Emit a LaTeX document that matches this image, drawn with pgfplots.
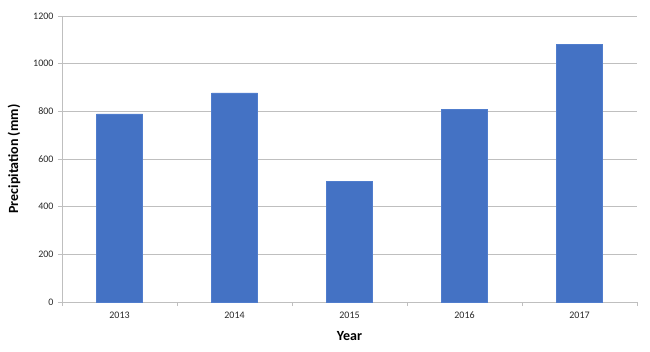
\documentclass[border=0pt]{standalone}
\usepackage{fontspec}
\setmainfont{Carlito}
\usepackage{pgfplots}
\pgfplotsset{compat=1.18}
\definecolor{barblue}{RGB}{68,114,196}
\definecolor{baredge}{RGB}{80,125,205}
\definecolor{gridgray}{RGB}{191,191,191}
\definecolor{ticktext}{RGB}{40,40,40}
\begin{document}
\begin{tikzpicture}
\useasboundingbox (-62pt,-49pt) rectangle (588pt,302pt);
\begin{axis}[
  scale only axis,
  width=575pt, height=286pt,
  at={(0,0)}, anchor=south west,
  xmin=-0.5, xmax=4.5,
  ymin=0, ymax=1200,
  ytick={0,200,...,1200},
  xtick={0,1,2,3,4},
  xticklabels={2013,2014,2015,2016,2017},
  minor xtick={-0.5,0.5,1.5,2.5,3.5,4.5},
  major x tick style={draw=none},
  minor tick length=4pt,
  major tick length=4pt,
  tick align=outside,
  tick style={gridgray, line width=0.8pt},
  axis lines*=left,
  axis line style={gridgray, line width=0.8pt},
  ymajorgrids,
  grid style={gridgray, line width=0.8pt},
  /pgf/number format/assume math mode=true,
  /pgf/number format/1000 sep={},
  tick label style={font=\fontsize{10}{12}\selectfont, text=ticktext},
  xticklabel style={yshift=-2pt},
  yticklabel style={xshift=-1pt},
  xlabel={\textbf{Year}},
  ylabel={\textbf{Precipitation (mm)}},
  label style={font=\fontsize{14}{16}\selectfont},
  x label style={at={(axis description cs:0.5,0)}, yshift=-34pt, anchor=center},
  y label style={at={([xshift=-48pt]axis description cs:0,0.5)}, anchor=center},
]
\addplot[ybar, bar width=46pt, fill=barblue, draw=baredge, line width=0.6pt] coordinates {
  (0,789) (1,877) (2,505) (3,807) (4,1081)
};
\end{axis}
\end{tikzpicture}
\end{document}
